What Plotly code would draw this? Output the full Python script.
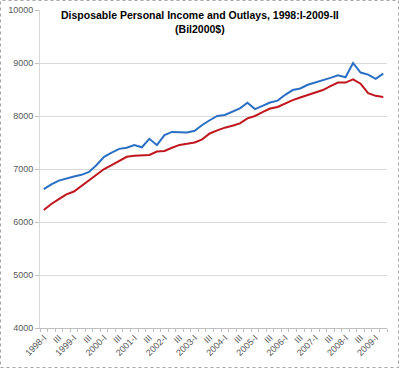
import plotly.graph_objects as go

# quarters 1998-I .. 2009-II
years = list(range(1998, 2010))
roman = ["I", "II", "III", "IV"]
quarters = [f"{y}-{q}" for y in years for q in roman][:46]

income = [6620, 6710, 6780, 6825, 6860, 6890, 6945, 7075, 7230, 7310,
          7380, 7400, 7450, 7410, 7570, 7450, 7640, 7700, 7690, 7690,
          7720, 7830, 7920, 8000, 8020, 8080, 8145, 8250, 8130, 8190,
          8255, 8290, 8400, 8490, 8520, 8590, 8630, 8670, 8720, 8770,
          8730, 9000, 8820, 8780, 8700, 8800]
outlays = [6225, 6340, 6430, 6520, 6575, 6680, 6780, 6890, 7000, 7075,
           7160, 7230, 7250, 7260, 7265, 7330, 7340, 7400, 7455, 7475,
           7500, 7560, 7670, 7730, 7780, 7815, 7860, 7955, 8000, 8075,
           8140, 8170, 8240, 8300, 8350, 8400, 8450, 8490, 8565, 8630,
           8630, 8690, 8610, 8430, 8380, 8360]

tick_labels = []
for i, q in enumerate(quarters):
    if i % 2 == 0:
        tick_labels.append(q if q.endswith("-I") else "III")

y_ticks = [4000, 5000, 6000, 7000, 8000, 9000, 10000]
y_tick_labels = [str(v) for v in y_ticks]

title_line1 = "Disposable Personal Income and Outlays, 1998:I-2009-II"
title_line2 = "(Bil2000$)"

xs = list(range(len(quarters)))

fig = go.Figure()
fig.add_trace(go.Scatter(x=xs, y=income, mode="lines", name="Income",
                         line=dict(color="#2A6FC4", width=2)))
fig.add_trace(go.Scatter(x=xs, y=outlays, mode="lines", name="Outlays",
                         line=dict(color="#C0161E", width=2)))

L, R, T, B = 40, 13, 10, 41
W, H = 400, 369
pw, ph = W - L - R, H - T - B

fig.update_layout(
    width=W, height=H,
    margin=dict(l=L, r=R, t=T, b=B, autoexpand=False),
    paper_bgcolor="white", plot_bgcolor="white",
    showlegend=False,
    font=dict(family="Liberation Sans, Arial, sans-serif", size=9, color="#595959"),
    xaxis=dict(
        range=[-0.5, len(quarters) - 0.5],
        tickmode="array",
        tickvals=xs[::2],
        ticktext=tick_labels,
        tickangle=-45,
        ticks="",
        automargin=False,
        showgrid=False,
        showline=True, linecolor="#BFBFBF", linewidth=1,
        minor=dict(tickmode="linear", tick0=-0.5, dtick=1, ticks="outside",
                   ticklen=3, tickcolor="#BFBFBF", showgrid=False),
        tickfont=dict(size=9, color="#595959"),
        zeroline=False,
    ),
    yaxis=dict(
        range=[4000, 10000],
        tickmode="array",
        tickvals=y_ticks,
        ticktext=y_tick_labels,
        automargin=False,
        showgrid=True, gridcolor="#D9D9D9", gridwidth=1,
        showline=True, linecolor="#D9D9D9", linewidth=1,
        ticks="outside", ticklen=4, tickcolor="#BFBFBF",
        tickfont=dict(size=9, color="#595959"),
        zeroline=False,
    ),
)

fig.add_annotation(
    text=f"<b>{title_line1}</b><br><b>{title_line2}</b>",
    xref="paper", yref="paper",
    x=(200 - L) / pw, y=(H - B - 7) / ph,
    xanchor="center", yanchor="top", showarrow=False,
    font=dict(family="Liberation Sans, Arial, sans-serif", size=10.5, color="#000000"),
    align="center",
)

# outer dotted border of the chart
fig.add_shape(type="rect", xref="paper", yref="paper",
              x0=(0.5 - L) / pw, x1=(W - 1.5 - L) / pw,
              y0=(H - B - (H - 1.5)) / ph, y1=(H - B - 0.5) / ph,
              line=dict(color="#A6A6A6", width=1, dash="dot"),
              layer="below")

fig.write_html("out.html", config={"displayModeBar": False},
               post_script="document.body.style.margin='0px';")
